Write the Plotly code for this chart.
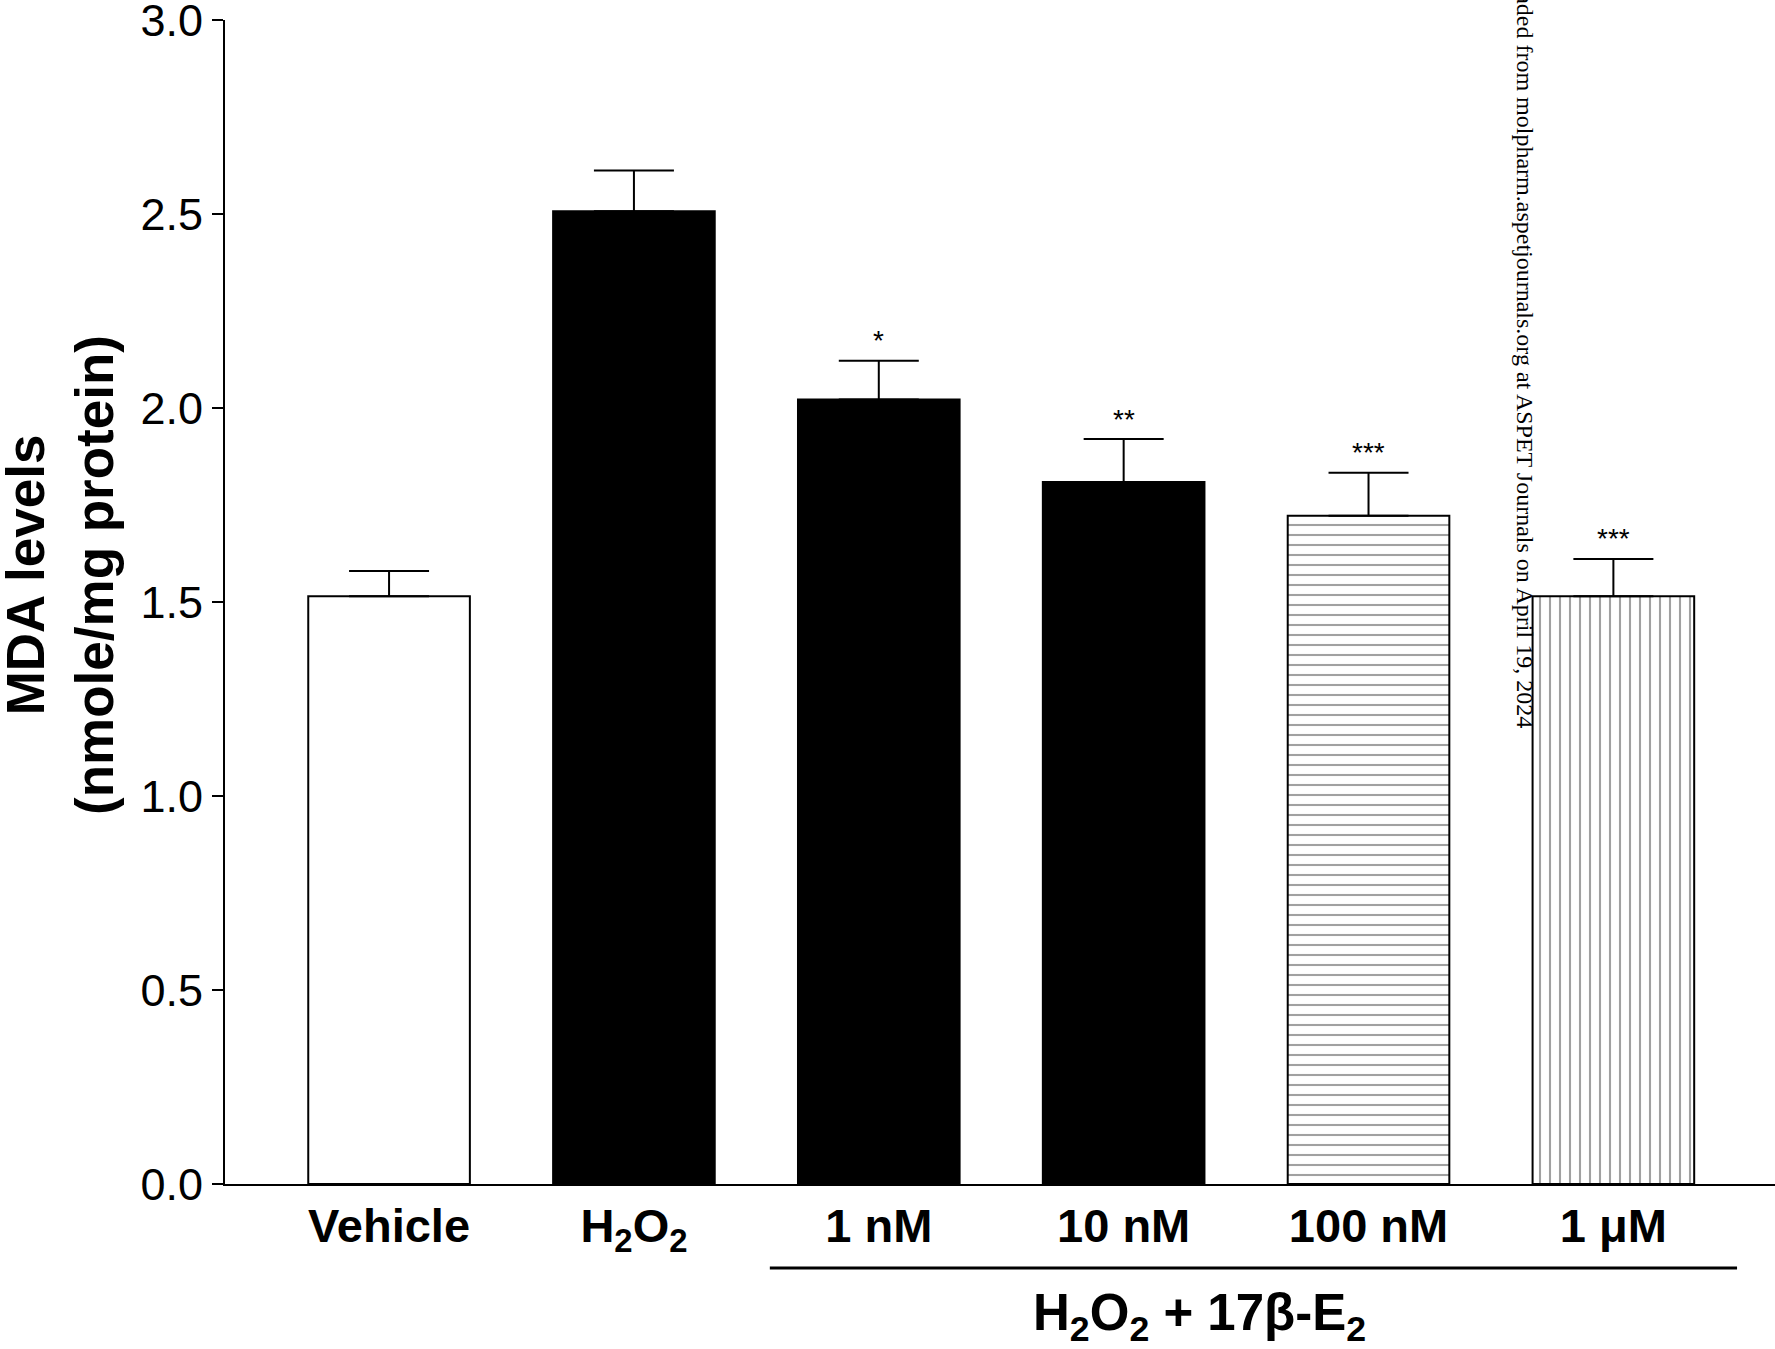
import plotly.graph_objects as go

categories = ["Vehicle", "H<sub>2</sub>O<sub>2</sub>", "1 nM", "10 nM", "100 nM", "1 μM"]
mda_mean = [1.515, 2.507, 2.022, 1.809, 1.722, 1.515]
mda_sem = [0.065, 0.105, 0.100, 0.111, 0.111, 0.096]
significance = ["", "", "*", "**", "***", "***"]
y_ticks = [0.0, 0.5, 1.0, 1.5, 2.0, 2.5, 3.0]

fill_colors = ["white", "black", "black", "black", "white", "white"]
pattern_shapes = ["", "", "", "", "-", "|"]

x_idx = list(range(len(categories)))

fig = go.Figure()
fig.add_trace(go.Bar(
    x=x_idx,
    y=mda_mean,
    width=0.66,
    marker=dict(
        color=fill_colors,
        line=dict(color="black", width=2),
        pattern=dict(shape=pattern_shapes, fgcolor="black",
                     size=10, solidity=0.21, fillmode="overlay"),
    ),
    error_y=dict(type="data", array=mda_sem, arrayminus=[0] * len(mda_sem),
                 symmetric=False, color="black", thickness=2, width=40),
    showlegend=False,
))

# significance stars
for i, (m, s, txt) in enumerate(zip(mda_mean, mda_sem, significance)):
    if txt:
        fig.add_annotation(x=i, y=m + s, text=txt, showarrow=False,
                           xanchor="center", yanchor="middle", yshift=20,
                           font=dict(family="Liberation Sans, Arial", size=28, color="black"))

# y-axis title as annotation
fig.add_annotation(xref="paper", yref="paper", x=-0.106, y=0.523,
                   text="<b>MDA levels</b><br><b>(nmole/mg protein)</b>",
                   textangle=-90, showarrow=False, xanchor="center", yanchor="middle",
                   font=dict(family="Liberation Sans, Arial", size=53, color="black"))

# group bracket
fig.add_shape(type="line", xref="x", yref="paper", x0=1.555, x1=5.505,
              y0=-0.0722, y1=-0.0722, line=dict(color="black", width=3))
fig.add_annotation(xref="x", yref="paper", x=3.31, y=-0.114,
                   text="<b>H<sub>2</sub>O<sub>2</sub> + 17β-E<sub>2</sub></b>",
                   showarrow=False, xanchor="center", yanchor="middle",
                   font=dict(family="Liberation Sans, Arial", size=51, color="black"))

# watermark
fig.add_annotation(xref="x", yref="y", x=4.64, y=1.17,
                   text="Downloaded from molpharm.aspetjournals.org at ASPET Journals on April 19, 2024",
                   textangle=90, showarrow=False, xanchor="center", yanchor="bottom",
                   font=dict(family="Liberation Serif, Times New Roman", size=24, color="black"))

fig.update_layout(
    width=1775, height=1349,
    margin=dict(l=225, r=0, t=20, b=165, autoexpand=False),
    paper_bgcolor="white", plot_bgcolor="white",
    bargap=0.34,
)
fig.update_xaxes(
    range=[-0.67, 5.66],
    tickvals=x_idx,
    ticktext=["<b>" + c + "</b>" for c in categories],
    tickfont=dict(family="Liberation Sans, Arial", size=47, color="black"),
    showline=True, linecolor="black", linewidth=2,
    ticks="", showgrid=False, zeroline=False, automargin=False,
)
fig.update_yaxes(
    range=[0, 3.0],
    tickvals=y_ticks,
    tickformat=".1f",
    tickfont=dict(family="Liberation Sans, Arial", size=45, color="black"),
    ticklabeloverflow="allow",
    showline=True, linecolor="black", linewidth=2,
    ticks="outside", ticklen=11, tickwidth=2, tickcolor="black",
    showgrid=False, zeroline=False, automargin=False,
)

fig.write_html("out.html")
